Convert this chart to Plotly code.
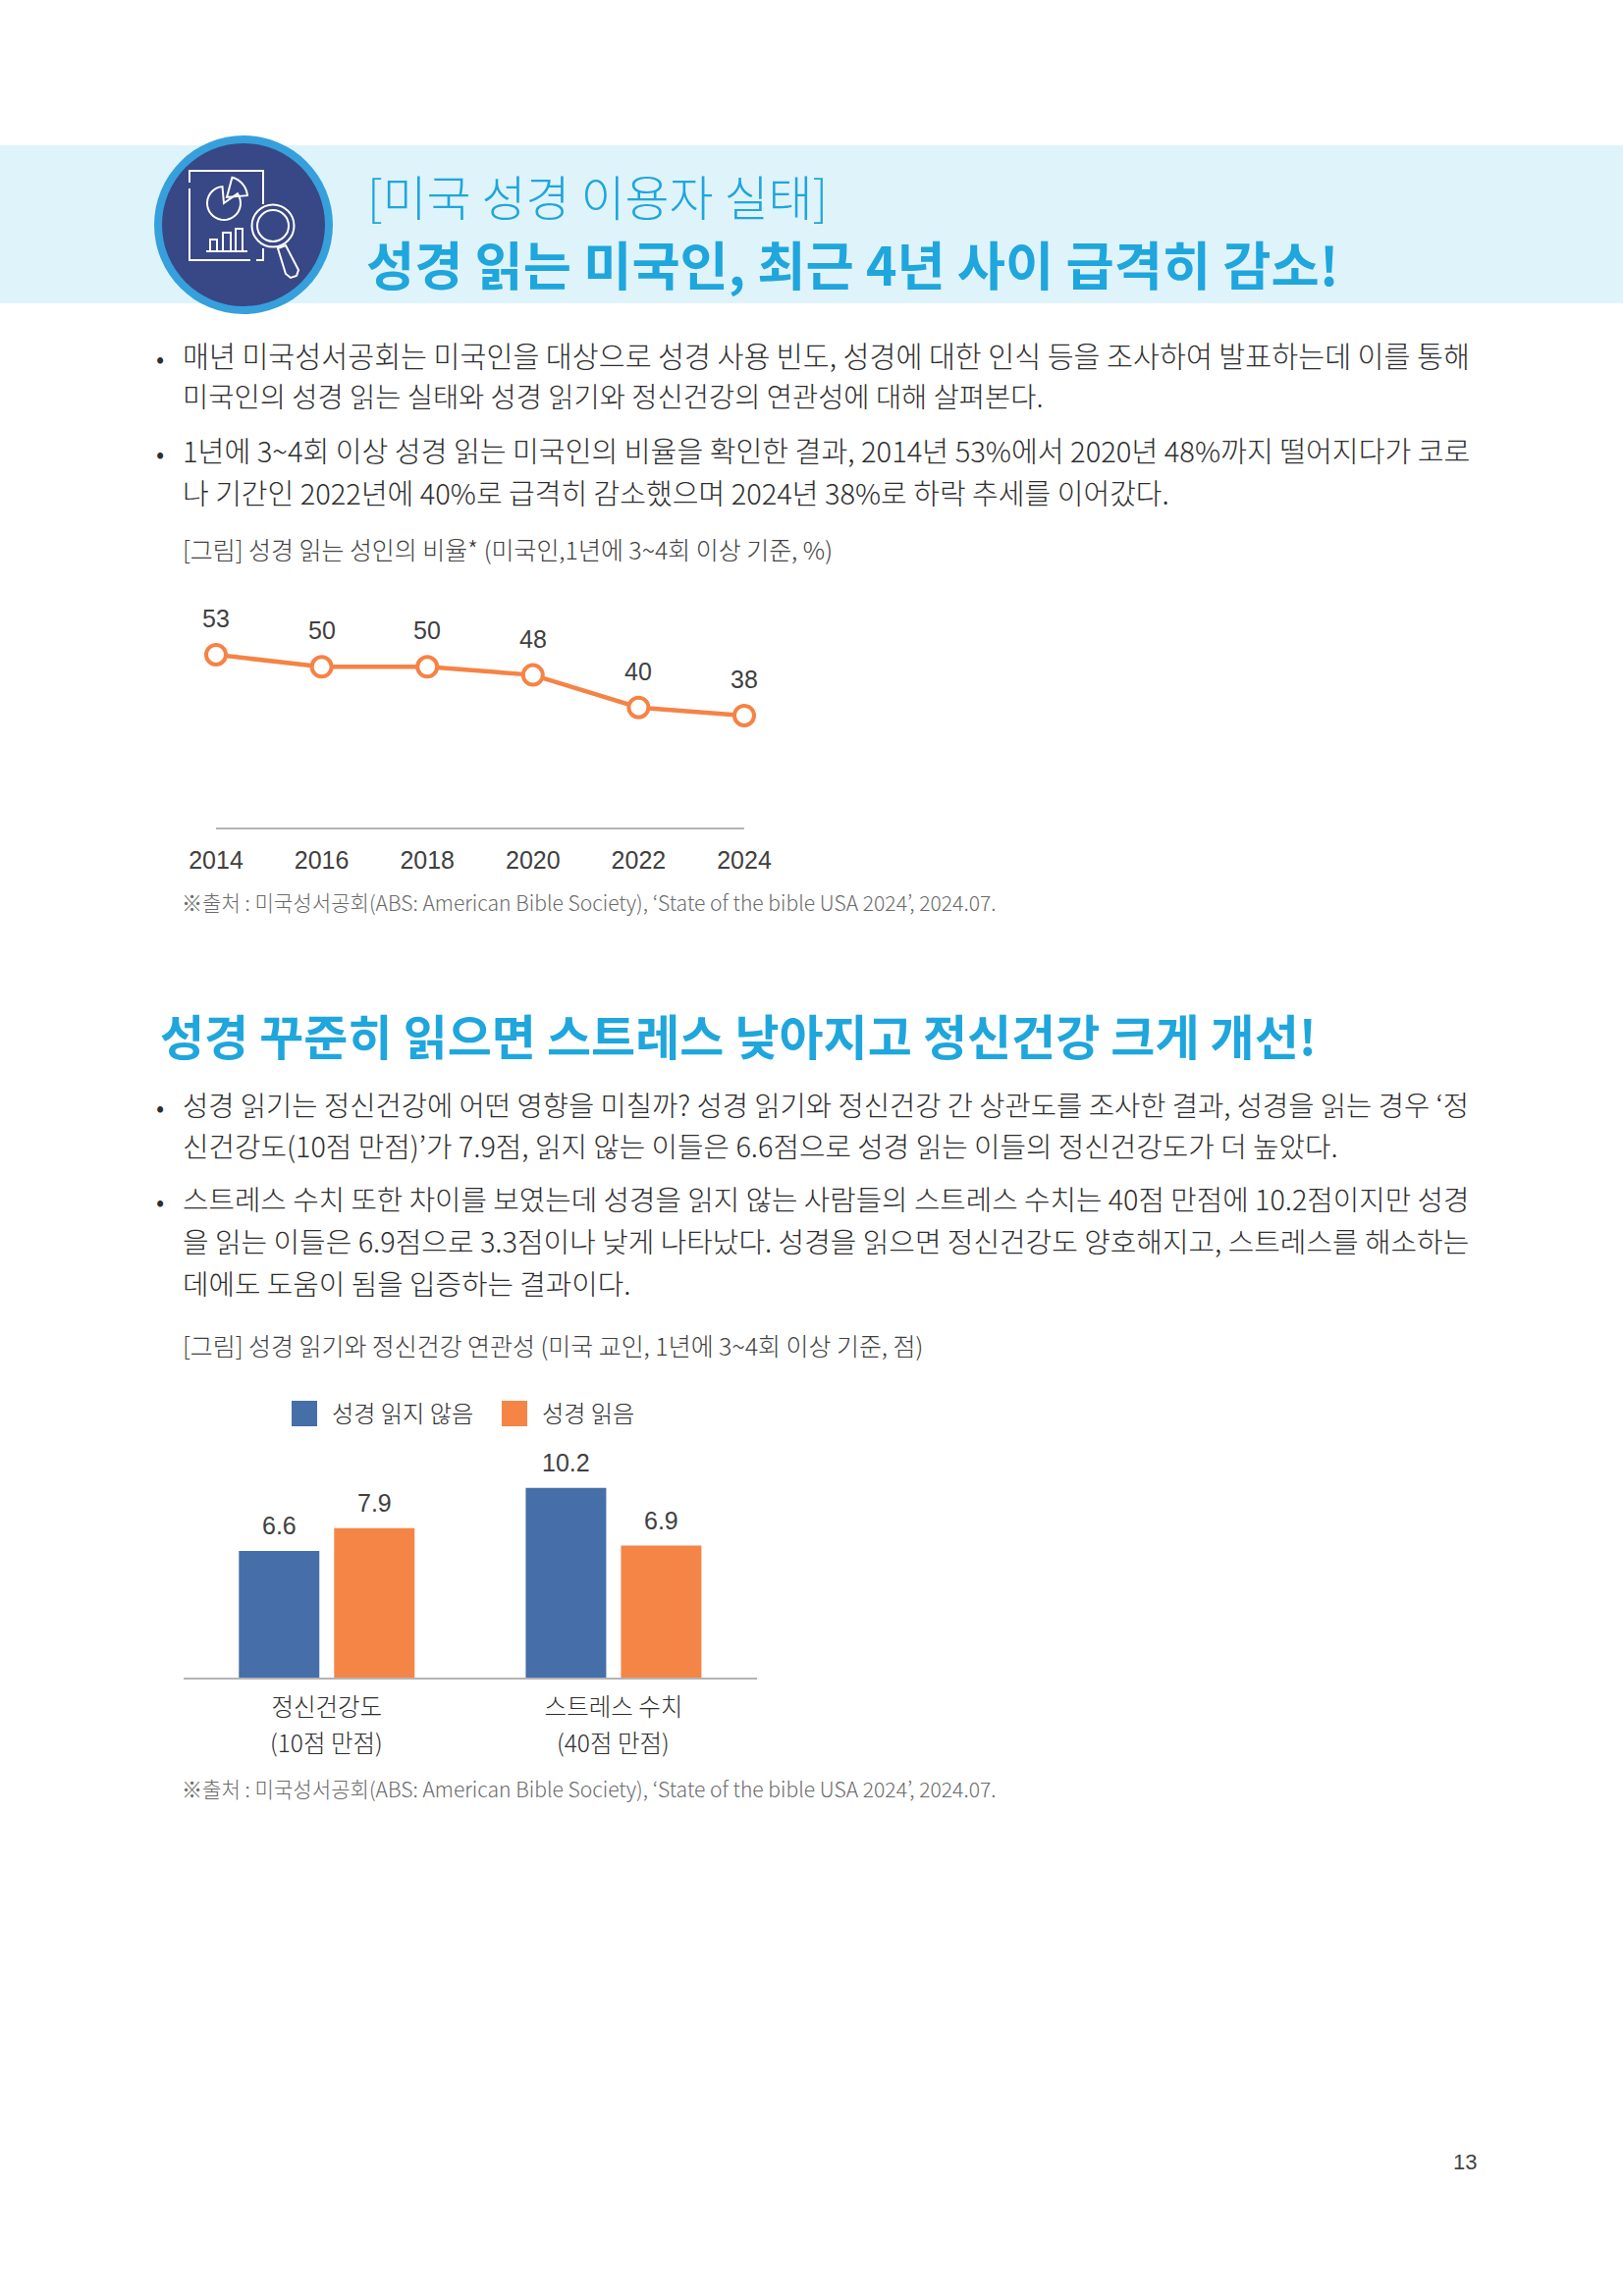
import numpy as np
import plotly.graph_objects as go

W, H = 1653, 2339

# chart values read from the page
years = ['2014', '2016', '2018', '2020', '2022', '2024']
reading_share = [53, 50, 50, 48, 40, 38]

bar_groups = ['정신건강도', '스트레스 수치']
bar_group_notes = ['(10점 만점)', '(40점 만점)']
not_reading = [6.6, 10.2]
reading = [7.9, 6.9]
series_names = ['성경 읽지 않음', '성경 읽음']

# page text
title_top = '[미국 성경 이용자 실태]'
title_main = '성경 읽는 미국인, 최근 4년 사이 급격히 감소!'
section_title = '성경 꾸준히 읽으면 스트레스 낮아지고 정신건강 크게 개선!'
caption_line = '[그림] 성경 읽는 성인의 비율* (미국인,1년에 3~4회 이상 기준, %)'
caption_bar = '[그림] 성경 읽기와 정신건강 연관성 (미국 교인, 1년에 3~4회 이상 기준, 점)'
source_note = '※출처 : 미국성서공회(ABS: American Bible Society), ‘State of the bible USA 2024’, 2024.07.'
para_top = [
    '매년 미국성서공회는 미국인을 대상으로 성경 사용 빈도, 성경에 대한 인식 등을 조사하여 발표하는데 이를 통해',
    '미국인의 성경 읽는 실태와 성경 읽기와 정신건강의 연관성에 대해 살펴본다.',
    '1년에 3~4회 이상 성경 읽는 미국인의 비율을 확인한 결과, 2014년 53%에서 2020년 48%까지 떨어지다가 코로',
    '나 기간인 2022년에 40%로 급격히 감소했으며 2024년 38%로 하락 추세를 이어갔다.',
]
para_bottom = [
    '성경 읽기는 정신건강에 어떤 영향을 미칠까? 성경 읽기와 정신건강 간 상관도를 조사한 결과, 성경을 읽는 경우 ‘정',
    '신건강도(10점 만점)’가 7.9점, 읽지 않는 이들은 6.6점으로 성경 읽는 이들의 정신건강도가 더 높았다.',
    '스트레스 수치 또한 차이를 보였는데 성경을 읽지 않는 사람들의 스트레스 수치는 40점 만점에 10.2점이지만 성경',
    '을 읽는 이들은 6.9점으로 3.3점이나 낮게 나타났다. 성경을 읽으면 정신건강도 양호해지고, 스트레스를 해소하는',
    '데에도 도움이 됨을 입증하는 결과이다.',
]

KR = 'Noto Sans CJK KR'
LATIN = 'Liberation Sans'
BLUE_TEXT = '#1FA6DC'
ORANGE = '#F58345'
BAR_BLUE = '#466EA8'
BAR_ORANGE = '#F58546'
AXIS_GREY = '#B4B4B4'
DARK = '#2E2E2E'
DIGITS = '#404040'


def px(x):
    return x / W


def py(y):
    return 1 - y / H


fig = go.Figure()
shapes = []
notes = []


def put_text(x, y, text, size, color=DARK, family=KR, bold=False, anchor='left'):
    notes.append(dict(
        x=px(x), y=py(y), xref='paper', yref='paper', text=text, showarrow=False,
        xanchor=anchor, yanchor='middle', borderpad=0,
        font=dict(size=size, color=color, family=family, weight=700 if bold else 300),
    ))


def rect(x0, y0, x1, y1, fill, layer='below'):
    shapes.append(dict(type='rect', xref='paper', yref='paper', x0=px(x0), x1=px(x1),
                       y0=py(y0), y1=py(y1), fillcolor=fill, line_width=0, layer=layer))


def circle(cx, cy, r, fill='rgba(0,0,0,0)', line=None, lw=0, layer='above'):
    shapes.append(dict(type='circle', xref='paper', yref='paper', x0=px(cx - r), x1=px(cx + r),
                       y0=py(cy - r), y1=py(cy + r), fillcolor=fill,
                       line=dict(color=line or fill, width=lw), layer=layer))


def icon_line(points, closed=False):
    path = 'M ' + ' L '.join(f'{px(a):.5f},{py(b):.5f}' for a, b in points)
    if closed:
        path += ' Z'
    shapes.append(dict(type='path', xref='paper', yref='paper', path=path,
                       line=dict(color='white', width=2), layer='above'))


def arc(cx, cy, r, start, stop, n=30):
    t = np.radians(np.linspace(start, stop, n))
    return list(zip(cx + r * np.cos(t), cy + r * np.sin(t)))


# banner and icon
rect(0, 148, W, 309, '#DFF3FA')
circle(248, 229, 91, fill='#36A0DC')
circle(248, 229, 83, fill='#384785')
icon_line([(193, 186), (193, 174), (268, 174), (268, 208)])
icon_line([(193, 192), (193, 265), (255, 265)])
icon_line([(261, 265), (268, 265), (268, 253)])
icon_line(arc(228, 207, 17, -35, 265) + [(228, 207)], closed=True)
icon_line(arc(231, 201, 21, -75, -5) + [(231, 201)], closed=True)
icon_line([(210, 256), (252, 256)])
for bx0, bx1, by in [(214, 221, 244), (227, 235, 237), (240, 247, 233)]:
    icon_line([(bx0, 256), (bx0, by), (bx1, by), (bx1, 256)])
circle(278, 230, 21.5, line='white', lw=2)
circle(278, 230, 16, line='white', lw=2)
icon_line([(283, 253), (291, 250), (304, 275), (302, 281), (296, 283), (291, 279)], closed=True)

put_text(373, 199, title_top, 49, BLUE_TEXT)
put_text(372, 268, title_main, 53.5, BLUE_TEXT, bold=True)

# first text block, sizes per line because the original lines are justified
for y, line, size in zip([361, 403, 458, 501], para_top, [29.3, 28.5, 29.17, 29.05]):
    put_text(185, y, line, size)
put_text(158, 363, '•', 26)
put_text(158, 460, '•', 26)
put_text(185, 559, caption_line, 24.95, '#404040')
put_text(184, 919, source_note, 21.1, '#6A6A6A')

# second text block
put_text(162, 1053, section_title, 49, BLUE_TEXT, bold=True)
for y, line, size in zip([1124, 1166, 1220, 1263, 1306], para_bottom, [28.56, 28.8, 28.76, 28.9, 28.8]):
    put_text(184.5, y, line, size)
put_text(158, 1126, '•', 26)
put_text(158, 1222, '•', 26)
put_text(185, 1370, caption_bar, 24.95, '#404040')
put_text(184, 1822, source_note, 21.1, '#6A6A6A')
put_text(1492, 2202, '13', 22, '#444444', LATIN, anchor='center')

# legend of the bar chart
rect(297, 1427, 323, 1453, BAR_BLUE)
put_text(337, 1438, series_names[0], 24.2)
rect(511, 1427, 537, 1453, BAR_ORANGE)
put_text(550.5, 1438, series_names[1], 24.2)

# line chart
fig.add_trace(go.Scatter(
    x=years, y=reading_share, mode='lines+markers', cliponaxis=False, showlegend=False,
    line=dict(color=ORANGE, width=4.5),
    marker=dict(size=20, color='white', line=dict(color=ORANGE, width=4)),
    xaxis='x', yaxis='y',
))
# numeric looking categories need the position index here
for i, val in enumerate(reading_share):
    notes.append(dict(x=i, y=val, xref='x', yref='y', text=str(val), showarrow=False,
                      yshift=37, yanchor='middle', font=dict(size=25, color=DIGITS, family=LATIN)))

# bar chart, the baseline sits a little under zero in the original
bar_floor = -0.66
for name, vals, color in zip(series_names, [not_reading, reading], [BAR_BLUE, BAR_ORANGE]):
    fig.add_trace(go.Bar(
        x=bar_groups, y=[v - bar_floor for v in vals], base=bar_floor, name=name,
        marker=dict(color=color, line_width=0), showlegend=False, xaxis='x2', yaxis='y2',
    ))
for group, a, b in zip(bar_groups, not_reading, reading):
    for val, shift in [(a, -48.5), (b, 48.5)]:
        notes.append(dict(x=group, y=val, xref='x2', yref='y2', text=str(val), showarrow=False,
                          xshift=shift, yshift=26, yanchor='middle',
                          font=dict(size=25, color=DIGITS, family=LATIN)))
for group, note in zip(bar_groups, bar_group_notes):
    notes.append(dict(x=group, y=bar_floor, xref='x2', yref='y2', text=note, showarrow=False,
                      yshift=-65, yanchor='middle', font=dict(size=24.5, color=DARK, family=KR, weight=300)))

fig.update_layout(
    width=W, height=H, autosize=False,
    margin=dict(l=0, r=0, t=0, b=0),
    paper_bgcolor='white', plot_bgcolor='rgba(0,0,0,0)',
    barmode='group', bargap=0.336, bargroupgap=0.155,
    shapes=shapes, annotations=notes,
    xaxis=dict(type='category', domain=[px(220), px(758)], range=[0, 5], anchor='y', automargin=False,
               showgrid=False, showline=True, linecolor=AXIS_GREY, linewidth=2, zeroline=False,
               ticks='', ticklabelstandoff=10, tickfont=dict(size=25, color=DIGITS, family=LATIN)),
    yaxis=dict(domain=[py(843.3), py(596.7)], range=[10.33, 70], visible=False, automargin=False),
    xaxis2=dict(type='category', domain=[px(186.7), px(771)], anchor='y2', automargin=False,
                showgrid=False, showline=True, linecolor=AXIS_GREY, linewidth=2, zeroline=False,
                ticks='', ticklabelstandoff=7, tickfont=dict(size=24.5, color=DARK, family=KR, weight=300)),
    yaxis2=dict(domain=[py(1709.3), py(1498)], range=[bar_floor, 11.2], visible=False, automargin=False),
)

fig.write_html('out.html', config={'displayModeBar': False}, post_script="document.body.style.margin='0';")
